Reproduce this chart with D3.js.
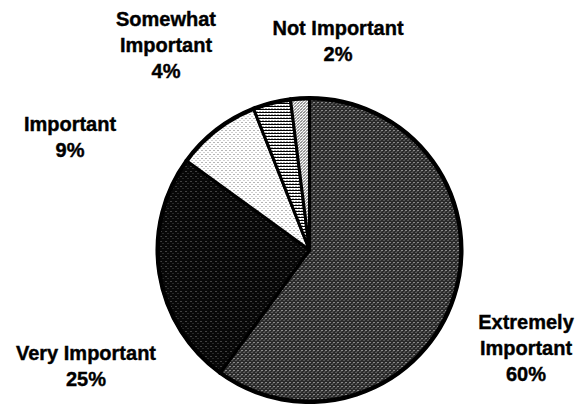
<!DOCTYPE html>
<html>
<head>
<meta charset="utf-8">
<script src="https://cdn.jsdelivr.net/npm/d3@7"></script>
<style>
  html, body { margin: 0; padding: 0; background: #fff; }
  svg { display: block; }
  text { font-family: "Liberation Sans", Arial, sans-serif; font-weight: bold; font-size: 20px; fill: #000; stroke: #000; stroke-width: 0.4px; }
</style>
</head>
<body>
<svg id="chart" width="584" height="404"></svg>
<script>
const categories = ["Extremely Important", "Very Important", "Important", "Somewhat Important", "Not Important"];
const values = [60, 25, 9, 4, 2];
const labelLines = [
  ["Extremely", "Important", "60%"],
  ["Very Important", "25%"],
  ["Important", "9%"],
  ["Somewhat", "Important", "4%"],
  ["Not Important", "2%"]
];

const W = 584, H = 404;
const cx = 309.5, cy = 250, R = 152.5;
const svg = d3.select("#chart");
const defs = svg.append("defs");

// texture patterns approximating the stippled fills
function pattern(id, w, h, base, dots) {
  const p = defs.append("pattern").attr("id", id).attr("patternUnits", "userSpaceOnUse")
    .attr("width", w).attr("height", h);
  p.append("rect").attr("width", w).attr("height", h).attr("fill", base);
  dots.forEach(d => p.append("rect").attr("x", d[0]).attr("y", d[1]).attr("width", d[3] || 1).attr("height", 1).attr("fill", d[2]));
}
pattern("pExt", 4, 4, "#2a2a2a", [[0,0,"#e8e8e8"],[2,2,"#8a8a8a"],[3,1,"#606060"]]);
pattern("pVery", 5, 5, "#080808", [[1,1,"#7a7a7a"],[3,3,"#4a4a4a"]]);
pattern("pImp", 4, 4, "#ffffff", [[0,0,"#6a6a6a"],[2,2,"#a0a0a0"]]);
pattern("pSome", 3, 3, "#ffffff", [[0,0,"#000000",3],[1,2,"#555555"]]);
pattern("pNot", 3, 3, "#ffffff", [[0,0,"#222222"],[2,1,"#777777"],[1,2,"#444444"]]);
const fills = ["url(#pExt)", "url(#pVery)", "url(#pImp)", "url(#pSome)", "url(#pNot)"];

const color = d3.scaleOrdinal().domain(categories).range(fills);
const data = categories.map((c, i) => ({ cat: c, value: values[i], lines: labelLines[i] }));

const pie = d3.pie().value(d => d.value).sort(null).startAngle(0).endAngle(2 * Math.PI);
const arc = d3.arc().innerRadius(0).outerRadius(R);

const g = svg.append("g").attr("transform", `translate(${cx},${cy})`);
g.selectAll("path.slice").data(pie(data)).join("path")
  .attr("class", "slice")
  .attr("d", arc)
  .attr("fill", d => color(d.data.cat))
  .attr("stroke", "#000")
  .attr("stroke-width", 3)
  .attr("stroke-linejoin", "round");

g.append("circle").attr("r", R - 1).attr("fill", "none").attr("stroke", "#000").attr("stroke-width", 3.5);

// label positions (center x, first baseline)
const labelPos = {
  "Extremely Important": [526, 329],
  "Very Important": [86, 360],
  "Important": [70, 131],
  "Somewhat Important": [166, 26],
  "Not Important": [338, 35]
};
const lineH = 26;
data.forEach(d => {
  const [x, y] = labelPos[d.cat];
  const t = svg.append("text").attr("text-anchor", "middle");
  d.lines.forEach((ln, i) => {
    t.append("tspan").attr("x", x).attr("y", y + i * lineH).text(ln);
  });
});
</script>
</body>
</html>
